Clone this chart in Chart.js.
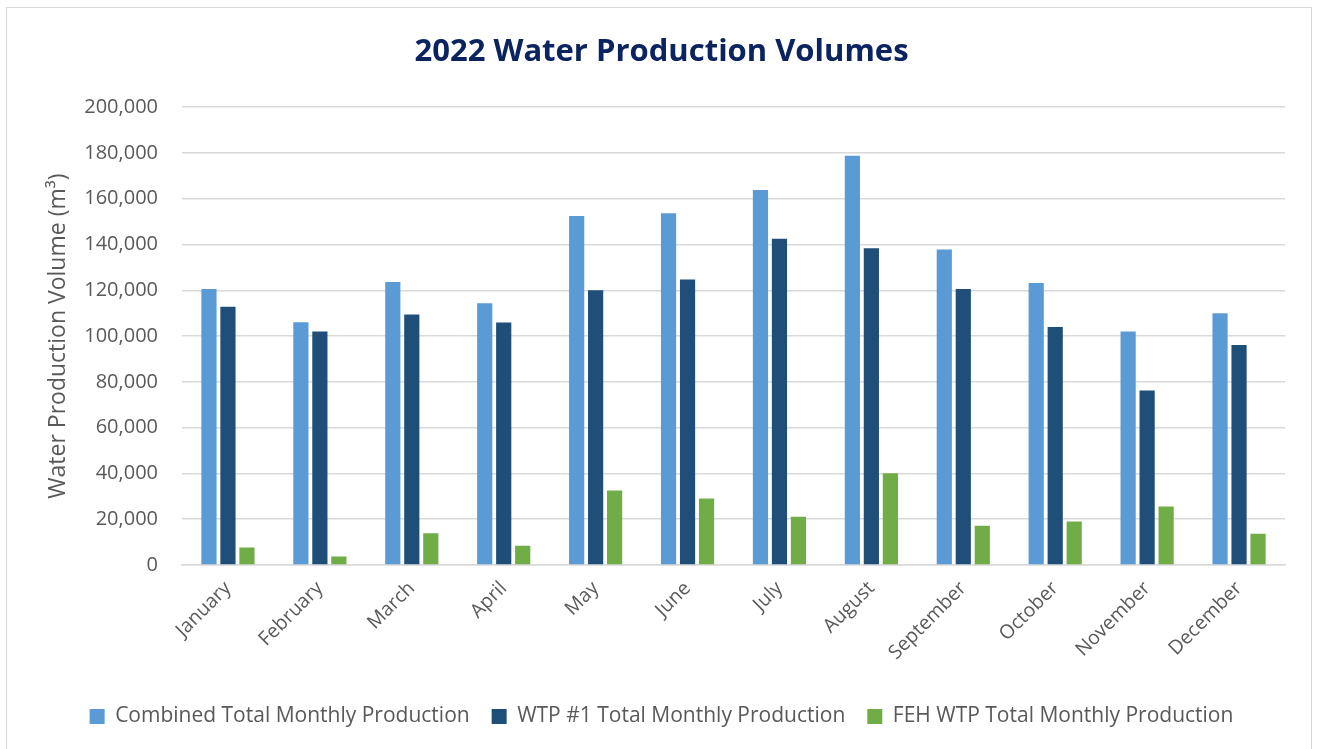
<!DOCTYPE html>
<html>
<head>
<meta charset="utf-8">
<script src="https://cdn.jsdelivr.net/npm/chart.js@4.4.0/dist/chart.umd.min.js"></script>
<style>
  html, body { margin: 0; padding: 0; background: #fff; }
  #wrap { position: relative; width: 1317px; height: 749px; }
  #frame { position: absolute; left: 6px; top: 7px; width: 1306px; height: 745px; border: 1px solid #d9d9d9; box-sizing: border-box; pointer-events: none; }
</style>
</head>
<body>
<div id="wrap">
  <canvas id="chart" width="1317" height="749"></canvas>
  <div id="frame"></div>
</div>
<script>
var months = ['January', 'February', 'March', 'April', 'May', 'June', 'July', 'August', 'September', 'October', 'November', 'December'];
var combinedTotal = [120600, 106000, 123600, 114300, 152500, 153700, 163800, 178800, 137800, 123200, 102000, 110000];
var wtp1Total = [112800, 102000, 109400, 105900, 120000, 124700, 142500, 138400, 120600, 104000, 76200, 96100];
var fehTotal = [7600, 3700, 13900, 8400, 32500, 29000, 21100, 40100, 17100, 19000, 25600, 13600];
var yTicks = [0, 20000, 40000, 60000, 80000, 100000, 120000, 140000, 160000, 180000, 200000];

var font = '"Open Sans", sans-serif';
var grey = '#595959';

var ctx = document.getElementById('chart').getContext('2d');
var chart = new Chart(ctx, {
  type: 'bar',
  data: {
    labels: months,
    datasets: [
      { label: 'Combined Total Monthly Production', data: combinedTotal, backgroundColor: '#5b9bd5' },
      { label: 'WTP #1 Total Monthly Production', data: wtp1Total, backgroundColor: '#1f4e79' },
      { label: 'FEH WTP Total Monthly Production', data: fehTotal, backgroundColor: '#70ad47' }
    ]
  },
  options: {
    responsive: false,
    animation: false,
    categoryPercentage: 0.62,
    barPercentage: 0.8,
    layout: { padding: { left: 38, right: 32, top: 0, bottom: 12 } },
    plugins: {
      title: {
        display: true,
        text: '2022 Water Production Volumes',
        color: '#0b2460',
        font: { family: font, size: 31, weight: 'bold' },
        padding: { top: 34, bottom: 36 }
      },
      legend: {
        position: 'bottom',
        labels: {
          color: grey,
          font: { family: font, size: 21 },
          boxWidth: 15,
          boxHeight: 15,
          padding: 22
        }
      },
      tooltip: { enabled: false }
    },
    scales: {
      x: {
        grid: { display: false },
        border: { color: '#d9d9d9', width: 1.5 },
        ticks: {
          color: grey,
          font: { family: font, size: 19.5 },
          minRotation: 45,
          maxRotation: 45,
          padding: 4
        },
        afterFit: function(scale) { scale.height = 119; }
      },
      y: {
        min: 0,
        max: 200000,
        afterBuildTicks: function(scale) {
          scale.ticks = yTicks.map(function(v) { return { value: v }; });
        },
        grid: { color: '#d9d9d9', lineWidth: 1.5, drawTicks: false },
        border: { display: false },
        ticks: {
          color: grey,
          font: { family: font, size: 20 },
          padding: 24,
          callback: function(v) { return v.toLocaleString('en-US'); }
        },
        title: {
          display: true,
          text: 'Water Production Volume (m³)',
          color: grey,
          font: { family: font, size: 23 },
          padding: { top: 7, bottom: 4 }
        },
        afterFit: function(scale) { scale.width = 144; }
      }
    }
  }
});
</script>
</body>
</html>
